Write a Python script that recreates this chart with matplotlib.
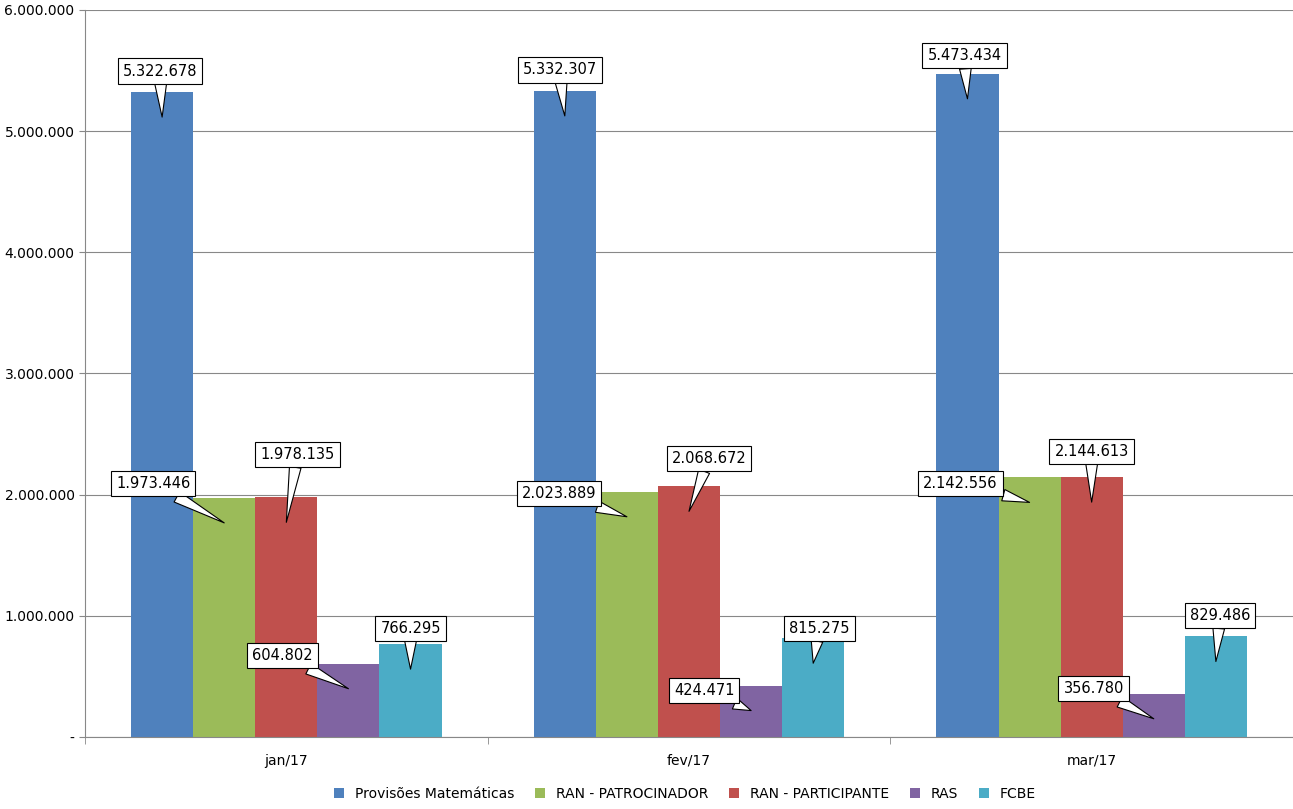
import matplotlib.pyplot as plt
import numpy as np

meses = ["jan/17", "fev/17", "mar/17"]
series = ["Provisões Matemáticas", "RAN - PATROCINADOR", "RAN - PARTICIPANTE", "RAS", "FCBE"]
prov = [5322678, 5332307, 5473434]
ran_pat = [1973446, 2023889, 2142556]
ran_part = [1978135, 2068672, 2144613]
ras = [604802, 424471, 356780]
fcbe = [766295, 815275, 829486]
cores = ["#4F81BD", "#9BBB59", "#C0504D", "#8064A2", "#4BACC6"]

# deslocamento dos rótulos (pixels) por série e mês
offsets = [
    [(-2, 46), (-5, 46), (-3, 43)],
    [(-71, 39), (-68, 23), (-69, 19)],
    [(11, 68), (20, 53), (0, 51)],
    [(-66, 33), (-47, 20), (-60, 30)],
    [(0, 41), (6, 35), (4, 46)],
]

def fmt(v):
    return f"{v:,}".replace(",", ".")

fig = plt.figure(figsize=(12.93, 8.09), dpi=100)
ax = fig.add_axes([85/1293, 72/809, 1 - 85/1293, 727/809])

valores = [prov, ran_pat, ran_part, ras, fcbe]
w = 62 / 402
x = np.arange(len(meses))
for i, (nome, vals, cor) in enumerate(zip(series, valores, cores)):
    pos = x + (i - 2) * w
    ax.bar(pos, vals, w, color=cor, label=nome, zorder=2)
    for j, v in enumerate(vals):
        tip = v - 25 * 6e6 / 727
        ax.annotate(fmt(v), xy=(pos[j], tip), xytext=offsets[i][j],
                    textcoords="offset pixels", ha="center", va="center",
                    fontsize=10.5, zorder=5,
                    bbox=dict(boxstyle="square,pad=0.35", fc="white", ec="black", lw=0.8),
                    arrowprops=dict(arrowstyle="wedge,tail_width=0.8", fc="white",
                                    ec="black", lw=0.8, shrinkA=0, shrinkB=0))

ax.set_xlim(-0.5, 2.5)
ax.set_ylim(0, 6e6)
yt = np.arange(0, 6000001, 1000000)
ax.set_yticks(yt)
ax.set_yticklabels(["-"] + [fmt(int(v)) for v in yt[1:]], fontsize=10)
ax.set_xticks(x)
ax.set_xticklabels(meses, fontsize=10)
ax.set_xticks([-0.5, 0.5, 1.5, 2.5], minor=True)
ax.tick_params(axis="x", which="major", length=0, pad=12)
ax.tick_params(axis="x", which="minor", length=5, color="#888888")
ax.tick_params(axis="y", length=4, color="#888888")
ax.grid(axis="y", color="#888888", lw=0.8, zorder=0)
for s in ["top", "right"]:
    ax.spines[s].set_visible(False)
ax.spines["left"].set_color("#888888")
ax.spines["bottom"].set_color("#888888")

fig.legend(loc="lower center", ncol=5, frameon=False, fontsize=10,
           handlelength=0.7, handleheight=0.7, columnspacing=1.5,
           bbox_to_anchor=(0.53, -0.005))
fig.savefig("out.png", dpi=100)
